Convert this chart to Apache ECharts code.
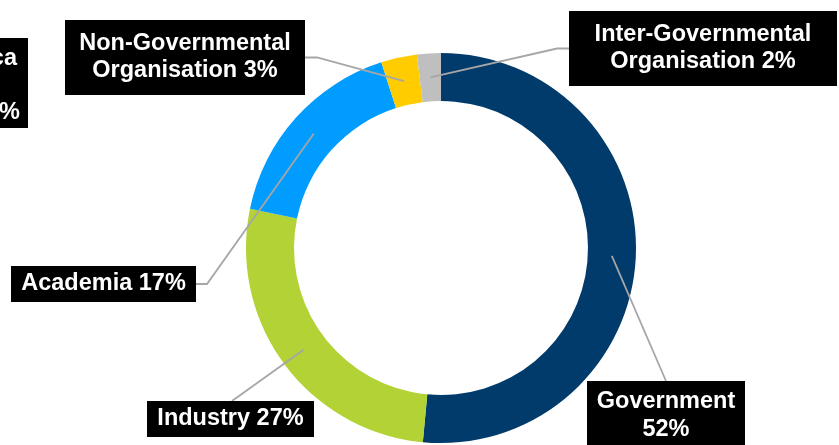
<!DOCTYPE html>
<html>
<head>
<meta charset="utf-8">
<script src="https://cdn.jsdelivr.net/npm/echarts@6/dist/echarts.min.js"></script>
<style>
html,body{margin:0;padding:0;background:#fff;}
#chart{width:839px;height:445px;}
</style>
</head>
<body>
<div id="chart"></div>
<script>
// ---- data ----
const categories = ['Government', 'Industry', 'Academia', 'Non-Governmental Organisation', 'Inter-Governmental Organisation'];
const shares = [52, 27, 17, 3, 2];

// ---- styling / layout (not data) ----
const colors = ['#003B6B', '#B2D235', '#009CFF', '#FFCC00', '#BFBFBF'];
const CX = 441, CY = 248, R_IN = 147, R_OUT = 195, R_LINE = 171;
const FONT = '"Liberation Sans", Arial, sans-serif';
// label boxes: center x, top y, width, padding
const labelBoxes = [
  {cx: 666,   top: 381, w: 158, pad: [7, 10, 10, 10], lh: 28, end: 'top'},
  {cx: 230.5, top: 401, w: 167, pad: [4.5, 10],        lh: 27, end: 'topAt', at: 232},
  {cx: 103.5, top: 266, w: 185, pad: [4.5, 10],        lh: 27, end: 'right', elbow: 11},
  {cx: 185,   top: 20,  w: 240, pad: [10.5, 12],       lh: 27, end: 'right', elbow: 12},
  {cx: 703,   top: 11,  w: 268, pad: [10.5, 12],       lh: 27, end: 'left',  elbow: 12}
];

const total = shares.reduce((a, b) => a + b, 0);
const midAngles = [];
let acc = 0;
shares.forEach(v => { midAngles.push((acc + v / 2) / total * 2 * Math.PI); acc += v; });

function labelText(i) {
  const name = categories[i].replace(' Organisation', '\nOrganisation');
  const sep = (i === 0) ? '\n' : ' ';
  return name + sep + shares[i] + '%';
}

const ringData = categories.map((c, i) => ({name: c, value: shares[i], itemStyle: {color: colors[i]}}));
const labelData = categories.map((c, i) => {
  const b = labelBoxes[i];
  const ph = b.pad.length === 4 ? b.pad[1] + b.pad[3] : b.pad[1] * 2;
  return {
    name: c,
    value: shares[i],
    label: {width: b.w - ph, overflow: 'none', padding: b.pad, lineHeight: b.lh}
  };
});

const chart = echarts.init(document.getElementById('chart'), null, {renderer: 'canvas'});
chart.setOption({
  animation: false,
  backgroundColor: '#ffffff',
  graphic: [
    {type: 'rect', shape: {x: -200, y: 38, width: 228, height: 90}, style: {fill: '#000'}, z: 1},
    {type: 'text', style: {text: 'ca', x: 17, y: 59, align: 'right', verticalAlign: 'middle', fill: '#fff', font: 'bold 23.5px ' + FONT}, z: 2},
    {type: 'text', style: {text: '%', x: 20, y: 113, align: 'right', verticalAlign: 'middle', fill: '#fff', font: 'bold 23.5px ' + FONT}, z: 2}
  ],
  series: [{
    type: 'pie',
    center: [CX, CY],
    radius: [R_IN, R_OUT],
    startAngle: 90,
    clockwise: true,
    silent: true,
    itemStyle: {borderWidth: 0},
    label: {show: false},
    labelLine: {show: false},
    data: ringData
  }, {
    type: 'pie',
    center: [CX, CY],
    radius: [R_IN, R_OUT],
    startAngle: 90,
    clockwise: true,
    silent: true,
    z: 3,
    avoidLabelOverlap: false,
    itemStyle: {color: 'rgba(0,0,0,0)', borderWidth: 0},
    label: {
      show: true,
      position: 'outside',
      formatter: p => labelText(p.dataIndex),
      color: '#ffffff',
      backgroundColor: '#000000',
      fontFamily: FONT,
      fontWeight: 'bold',
      fontSize: 23.5,
      align: 'center'
    },
    labelLine: {
      show: true,
      length: 10,
      length2: 10,
      lineStyle: {color: '#A6A6A6', width: 1.8}
    },
    emphasis: {disabled: true},
    labelLayout: function (params) {
      const i = params.dataIndex;
      const b = labelBoxes[i];
      const a = midAngles[i];
      const start = [CX + R_LINE * Math.sin(a), CY - R_LINE * Math.cos(a)];
      const h = params.labelRect.height;
      const left = b.cx - b.w / 2, right = b.cx + b.w / 2;
      let end, elbow;
      if (b.end === 'top') { end = [b.cx, b.top]; elbow = end; }
      else if (b.end === 'topAt') { end = [b.at, b.top]; elbow = end; }
      else if (b.end === 'right') { end = [right, b.top + h / 2]; elbow = [right + b.elbow, b.top + h / 2]; }
      else { end = [left, b.top + h / 2]; elbow = [left - b.elbow, b.top + h / 2]; }
      return {
        x: b.cx,
        y: b.top,
        align: 'center',
        verticalAlign: 'top',
        labelLinePoints: [start, elbow, end]
      };
    },
    data: labelData
  }]
});
</script>
</body>
</html>
